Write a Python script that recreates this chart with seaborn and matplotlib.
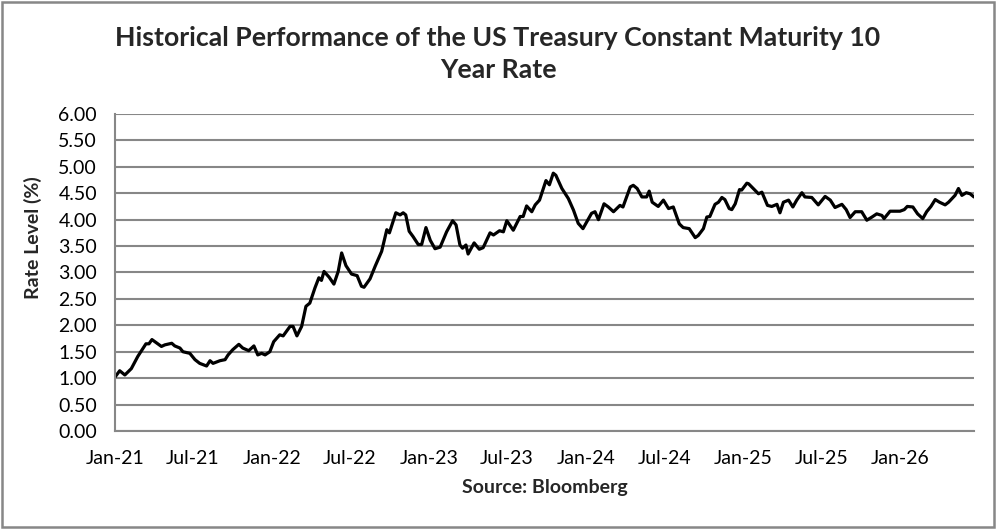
import pandas as pd
import matplotlib
matplotlib.use("Agg")
import matplotlib.pyplot as plt
import matplotlib.dates as mdates
from matplotlib.patches import Rectangle
from matplotlib.ticker import MultipleLocator, FormatStrFormatter
import seaborn as sns

# Weekly-ish readings of the 10Y constant maturity rate (%)
dates_2021 = ["2021-01-01", "2021-01-12", "2021-01-24", "2021-02-08", "2021-02-23", "2021-03-14",
              "2021-03-21", "2021-03-28", "2021-04-19", "2021-04-27", "2021-05-13", "2021-05-20",
              "2021-06-01", "2021-06-08", "2021-06-24", "2021-07-06", "2021-07-17", "2021-08-02",
              "2021-08-10", "2021-08-17", "2021-09-02", "2021-09-14", "2021-09-21", "2021-10-02",
              "2021-10-16", "2021-10-25", "2021-11-08", "2021-11-20", "2021-11-29", "2021-12-08",
              "2021-12-16", "2021-12-27"]
rates_2021 = [1.02, 1.14, 1.06, 1.18, 1.41, 1.65, 1.65, 1.73, 1.60, 1.63, 1.66, 1.61,
              1.57, 1.50, 1.47, 1.35, 1.28, 1.23, 1.33, 1.28, 1.33, 1.35, 1.44, 1.54,
              1.64, 1.57, 1.52, 1.61, 1.44, 1.47, 1.44, 1.50]

dates_2022 = ["2022-01-05", "2022-01-19", "2022-01-27", "2022-02-12", "2022-02-19", "2022-02-28",
              "2022-03-11", "2022-03-21", "2022-03-30", "2022-04-11", "2022-04-20", "2022-04-26",
              "2022-05-02", "2022-05-14", "2022-05-25", "2022-06-04", "2022-06-12", "2022-06-22",
              "2022-07-05", "2022-07-18", "2022-07-28", "2022-08-03", "2022-08-17", "2022-08-29",
              "2022-09-13", "2022-09-25", "2022-10-01", "2022-10-16", "2022-10-26", "2022-11-02",
              "2022-11-08", "2022-11-16", "2022-11-25", "2022-12-07", "2022-12-15", "2022-12-25"]
rates_2022 = [1.69, 1.82, 1.80, 1.98, 1.98, 1.80, 1.98, 2.36, 2.42, 2.71, 2.90, 2.85,
              3.02, 2.91, 2.78, 3.02, 3.37, 3.13, 2.97, 2.94, 2.74, 2.72, 2.88, 3.12,
              3.40, 3.81, 3.75, 4.13, 4.09, 4.13, 4.09, 3.78, 3.68, 3.53, 3.53, 3.85]

dates_2023 = ["2023-01-04", "2023-01-15", "2023-01-27", "2023-02-11", "2023-02-25", "2023-03-05",
              "2023-03-14", "2023-03-20", "2023-03-28", "2023-04-02", "2023-04-16", "2023-04-28",
              "2023-05-07", "2023-05-23", "2023-05-31", "2023-06-14", "2023-06-23", "2023-07-01",
              "2023-07-16", "2023-08-01", "2023-08-08", "2023-08-16", "2023-08-28", "2023-09-05",
              "2023-09-15", "2023-09-30", "2023-10-08", "2023-10-17", "2023-10-23", "2023-11-06",
              "2023-11-21", "2023-12-03", "2023-12-14", "2023-12-25"]
rates_2023 = [3.61, 3.45, 3.48, 3.77, 3.98, 3.90, 3.52, 3.46, 3.52, 3.35, 3.56, 3.44,
              3.47, 3.75, 3.71, 3.79, 3.77, 3.98, 3.80, 4.06, 4.06, 4.26, 4.15, 4.28,
              4.37, 4.74, 4.66, 4.88, 4.84, 4.59, 4.40, 4.18, 3.93, 3.83]

dates_2024 = ["2024-01-03", "2024-01-14", "2024-01-22", "2024-01-30", "2024-02-12", "2024-02-22",
              "2024-03-05", "2024-03-20", "2024-03-27", "2024-04-13", "2024-04-20", "2024-04-29",
              "2024-05-10", "2024-05-21", "2024-05-27", "2024-06-03", "2024-06-17", "2024-06-29",
              "2024-07-11", "2024-07-22", "2024-08-05", "2024-08-14", "2024-08-28", "2024-09-11",
              "2024-09-18", "2024-09-30", "2024-10-08", "2024-10-15", "2024-10-27", "2024-11-04",
              "2024-11-12", "2024-11-19", "2024-11-29", "2024-12-05", "2024-12-13", "2024-12-23",
              "2024-12-28"]
rates_2024 = [3.96, 4.12, 4.15, 4.00, 4.30, 4.24, 4.15, 4.27, 4.24, 4.62, 4.65, 4.59,
              4.43, 4.43, 4.54, 4.33, 4.25, 4.37, 4.21, 4.24, 3.92, 3.85, 3.83, 3.66,
              3.70, 3.83, 4.05, 4.06, 4.29, 4.33, 4.42, 4.38, 4.21, 4.19, 4.30, 4.57, 4.56]

dates_2025 = ["2025-01-09", "2025-01-13", "2025-01-24", "2025-02-05", "2025-02-13", "2025-02-26",
              "2025-03-08", "2025-03-20", "2025-03-27", "2025-04-04", "2025-04-16", "2025-04-26",
              "2025-05-05", "2025-05-17", "2025-05-24", "2025-06-09", "2025-06-24", "2025-07-10",
              "2025-07-22", "2025-08-02", "2025-08-18", "2025-08-28", "2025-09-06", "2025-09-18",
              "2025-10-03", "2025-10-15", "2025-10-27", "2025-11-07", "2025-11-19", "2025-11-24",
              "2025-12-08", "2025-12-31"]
rates_2025 = [4.69, 4.68, 4.59, 4.49, 4.52, 4.27, 4.25, 4.29, 4.13, 4.33, 4.37, 4.24,
              4.37, 4.51, 4.43, 4.42, 4.28, 4.44, 4.37, 4.23, 4.29, 4.19, 4.04, 4.15,
              4.15, 3.99, 4.05, 4.11, 4.08, 4.02, 4.16, 4.16]

dates_2026 = ["2026-01-10", "2026-01-17", "2026-01-30", "2026-02-10", "2026-02-22", "2026-03-03",
              "2026-03-13", "2026-03-23", "2026-04-02", "2026-04-15", "2026-04-23", "2026-05-01",
              "2026-05-08", "2026-05-16", "2026-05-24", "2026-06-03", "2026-06-12", "2026-06-21"]
rates_2026 = [4.19, 4.25, 4.24, 4.11, 4.02, 4.15, 4.25, 4.38, 4.33, 4.28, 4.33, 4.40,
              4.46, 4.59, 4.46, 4.51, 4.49, 4.43]

title = "Historical Performance of the US Treasury Constant Maturity 10\nYear Rate"
y_label = "Rate Level (%)"
source = "Source: Bloomberg"

GRAY = "#878787"

df = pd.DataFrame({
    "Date": pd.to_datetime(dates_2021 + dates_2022 + dates_2023 + dates_2024 + dates_2025 + dates_2026),
    "Rate": rates_2021 + rates_2022 + rates_2023 + rates_2024 + rates_2025 + rates_2026,
})

sns.set_theme(style="white")
plt.rcParams["font.family"] = ["Lato", "DejaVu Sans"]

fig = plt.figure(figsize=(9.98, 5.29), dpi=100)
ax = fig.add_axes([0.1152, 0.1853, 0.8607, 0.5992])

sns.lineplot(data=df, x="Date", y="Rate", color="black", linewidth=2.3, ax=ax)

# ---------- Axes ----------
ax.set_xlim(df["Date"].iloc[0], df["Date"].iloc[-1])
ax.set_ylim(0, 6)
ax.yaxis.set_major_locator(MultipleLocator(0.5))
ax.yaxis.set_major_formatter(FormatStrFormatter("%.2f"))
ax.set_xticks(pd.date_range("2021-01-01", "2026-01-01", freq="6MS"))
ax.xaxis.set_major_formatter(mdates.DateFormatter("%b-%y"))

ax.grid(axis="y", color=GRAY, linewidth=1.5)
ax.set_axisbelow(True)
for side in ["top", "right"]:
    ax.spines[side].set_visible(False)
for side in ["left", "bottom"]:
    ax.spines[side].set_color(GRAY)
    ax.spines[side].set_linewidth(1.5)

ax.tick_params(axis="both", direction="out", length=5, width=1.5, color=GRAY,
               labelsize=14, labelcolor="black")
ax.tick_params(axis="y", pad=8)
ax.tick_params(axis="x", pad=9)

ax.set_xlabel(source, fontsize=14, fontweight="bold", labelpad=8)
ax.set_ylabel(y_label, fontsize=14, fontweight="bold")
ax.yaxis.set_label_coords(-0.085, 0.61)

fig.text(0.499, 0.951, title, ha="center", va="top", fontsize=19.2, fontweight="bold",
         linespacing=1.4)

# chart-area border
fig.patches.append(Rectangle((0.002, 0.003), 0.994, 0.994, transform=fig.transFigure,
                             fill=False, edgecolor=GRAY, linewidth=1.8))

fig.savefig("out.png", dpi=100)
